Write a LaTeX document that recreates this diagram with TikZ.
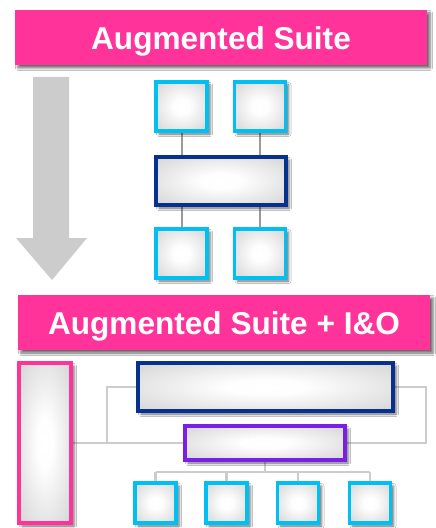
\documentclass[tikz,border=0pt]{standalone}
\usepackage{fontspec}
\setmainfont{Liberation Sans}
\usetikzlibrary{shadows.blur,backgrounds}
\definecolor{banner}{HTML}{FF3399}
\definecolor{cyanbox}{HTML}{00BFF3}
\definecolor{navybox}{HTML}{06318C}
\definecolor{purplebox}{HTML}{7A20E6}
\definecolor{pinkbox}{HTML}{FF3399}
\definecolor{arrowgray}{HTML}{CCCCCC}
\definecolor{linkdark}{HTML}{9A9A9A}
\definecolor{linklight}{HTML}{CCCCCC}
\definecolor{boxedge}{HTML}{DADADA}
% soft white glow in the middle of each panel, light grey towards the border
\pgfdeclareradialshading{panelglow}{\pgfpoint{0bp}{0bp}}{%
  color(0bp)=(white); color(8bp)=(white!96!boxedge); color(32bp)=(boxedge);
  color(50bp)=(boxedge)}
\tikzset{
  softshadow/.style={blur shadow={shadow xshift=3bp, shadow yshift=-3bp,
      shadow blur radius=2.5bp, shadow opacity=60}},
  bannerbox/.style={rectangle, fill=banner, inner sep=0pt, outer sep=0pt,
      minimum width=412bp, minimum height=55bp, softshadow,
      text=white, font=\bfseries\fontsize{31.7}{36}\selectfont,
      text height=24bp, text depth=0pt},
  panel/.style={rectangle, draw=#1, line width=3.9bp, inner sep=0pt, outer sep=0pt,
      shading=panelglow, softshadow},
  smallbox/.style={panel=cyanbox, minimum width=51bp, minimum height=49bp},
  tinybox/.style={panel=cyanbox, minimum width=41bp, minimum height=40bp},
  darklink/.style={draw=linkdark, line width=2bp},
  lightlink/.style={draw=linklight, line width=2.4bp},
}
\begin{document}
\begin{tikzpicture}[x=1bp, y=-1bp]
  \useasboundingbox (0,0) rectangle (436,528);

  % upper section
  \node[bannerbox] (ban1) at (221,37.5) {Augmented Suite};

  \fill[arrowgray] (33,77) -- (69,77) -- (69,238) -- (87,238) -- (52,280)
     -- (16,238) -- (33,238) -- cycle;

  \node[smallbox] (a1) at (181.5,106.5) {};
  \node[smallbox] (a2) at (260,106.5) {};
  \node[panel=navybox, minimum width=130bp, minimum height=48bp] (m) at (221,181) {};
  \node[smallbox] (b1) at (181.5,253.5) {};
  \node[smallbox] (b2) at (260,253.5) {};

  % lower section
  \node[bannerbox] (ban2) at (224,322.5) {Augmented Suite + I\&O};

  \node[panel=pinkbox, minimum width=52bp, minimum height=160bp] (p) at (45,443) {};
  \node[panel=navybox, minimum width=255bp, minimum height=48bp] (d) at (265.5,387) {};
  \node[panel=purplebox, minimum width=160bp, minimum height=34bp] (u) at (265,443) {};

  \node[tinybox] (c1) at (155.5,503) {};
  \node[tinybox] (c2) at (226.5,503) {};
  \node[tinybox] (c3) at (298,503) {};
  \node[tinybox] (c4) at (370,503) {};

  \coordinate (fl) at (107,387);
  \coordinate (fr) at (426,387);
  \coordinate (hub) at (265,472);

  \begin{scope}[on background layer]
    \fill[white] (0,0) rectangle (436,528);

    \path[darklink] (a1.south) -- (a1.south |- m.north);
    \path[darklink] (a2.south) -- (a2.south |- m.north);
    \path[darklink] (b1.north) -- (b1.north |- m.south);
    \path[darklink] (b2.north) -- (b2.north |- m.south);

    % frame around the wide box, joined to the side column
    \path[lightlink] (d.center) -- (fl) |- (u.center);
    \path[lightlink] (d.center) -- (fr) |- (u.center);
    \path[lightlink] (p.center) -- (u.center);

    % tree below the purple box
    \path[lightlink] (u.center) -- (hub);
    \path[lightlink] (c1.north |- hub) -- (c4.north |- hub);
    \foreach \c in {c1,c2,c3,c4}
      \path[lightlink] (\c.center |- hub) -- (\c.center);
  \end{scope}
\end{tikzpicture}
\end{document}
